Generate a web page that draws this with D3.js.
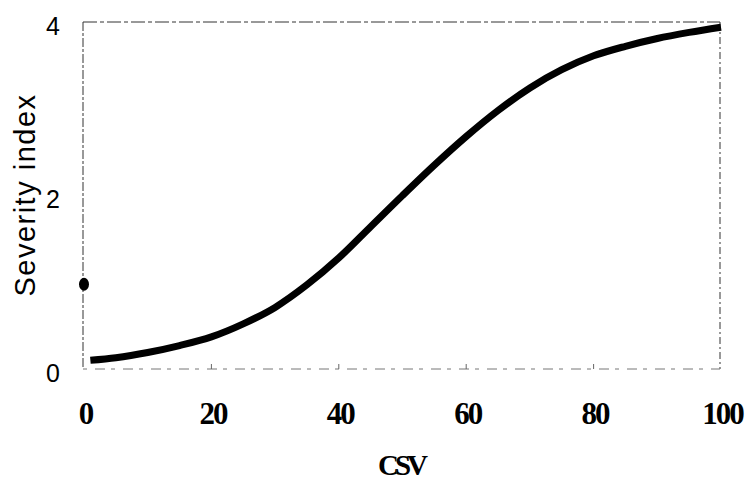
<!DOCTYPE html>
<html>
<head>
<meta charset="utf-8">
<script src="https://cdn.jsdelivr.net/npm/d3@7"></script>
<style>
  body { margin: 0; background: #fff; }
  svg { display: block; }
</style>
</head>
<body>
<script>
// values
var csv      = [1, 5, 10, 15, 20, 25, 30, 35, 40, 45, 50, 55, 60, 65, 70, 75, 80, 85, 90, 95, 100];
var severity = [0.10, 0.13, 0.19, 0.27, 0.37, 0.52, 0.71, 0.97, 1.28, 1.64, 2.00, 2.35, 2.68, 2.98, 3.24, 3.45, 3.61, 3.72, 3.81, 3.88, 3.94];
var dotCsv = [0];
var dotSeverity = [1];
var xTicks = [0, 20, 40, 60, 80, 100];
var yTicks = [0, 2, 4];

var W = 746, H = 481;

var x = d3.scaleLinear().domain([0, 100]).range([84, 721]);
var y = d3.scaleLinear().domain([0, 4]).range([369, 22]);

var svg = d3.select("body").append("svg")
    .attr("width", W)
    .attr("height", H);

// frame (dashed, like the scanned original)
var frame = svg.append("g")
    .attr("fill", "none")
    .attr("stroke", "#333")
    .attr("stroke-width", 1);

frame.append("line")
    .attr("x1", x(0) - 1).attr("x2", x(100) - 1)
    .attr("y1", y(4)).attr("y2", y(4))
    .attr("stroke-dasharray", "14,3,4,3");
frame.append("line")
    .attr("x1", x(0) - 1).attr("x2", x(0) - 1)
    .attr("y1", y(4)).attr("y2", y(0))
    .attr("stroke-dasharray", "9,2,3,2");
frame.append("line")
    .attr("x1", x(100) - 1).attr("x2", x(100) - 1)
    .attr("y1", y(4)).attr("y2", y(0))
    .attr("stroke-dasharray", "7,3,2,3");
frame.append("line")
    .attr("x1", x(0) - 1).attr("x2", x(100) - 1)
    .attr("y1", y(0)).attr("y2", y(0))
    .attr("stroke", "#777")
    .attr("stroke-dasharray", "4,8,10,6");

// small inner ticks on the bottom edge
frame.selectAll("line.tick")
    .data(xTicks.slice(1, -1))
    .enter().append("line")
    .attr("class", "tick")
    .attr("x1", function(d){ return x(d); })
    .attr("x2", function(d){ return x(d); })
    .attr("y1", y(0))
    .attr("y2", y(0) - 5)
    .attr("stroke", "#666");

// x axis
var xAxis = svg.append("g")
    .attr("transform", "translate(0," + y(0) + ")")
    .call(d3.axisBottom(x).tickValues(xTicks).tickSize(0).tickPadding(33).tickFormat(d3.format("d")));
xAxis.select(".domain").remove();
xAxis.selectAll("text")
    .attr("fill", "#000")
    .attr("dx", "1px")
    .style("font-family", "'Liberation Serif', 'Times New Roman', serif")
    .style("font-weight", "bold")
    .style("font-size", "31px")
    .style("letter-spacing", "-2px");

// y axis
var yAxis = svg.append("g")
    .attr("transform", "translate(" + (x(0) - 1) + ",0)")
    .call(d3.axisLeft(y).tickValues(yTicks).tickSize(0).tickPadding(23).tickFormat(d3.format("d")));
yAxis.select(".domain").remove();
yAxis.selectAll("text")
    .attr("fill", "#000")
    .attr("dy", "0.48em")
    .style("font-family", "'Liberation Sans', Arial, sans-serif")
    .style("font-size", "25px");

// axis titles
svg.append("text")
    .attr("x", 401)
    .attr("y", 475)
    .attr("text-anchor", "middle")
    .style("font-family", "'Liberation Serif', 'Times New Roman', serif")
    .style("font-weight", "bold")
    .style("font-size", "29px")
    .style("letter-spacing", "-4px")
    .text("CSV");

svg.append("text")
    .attr("transform", "translate(35,195) rotate(-90)")
    .attr("text-anchor", "middle")
    .style("font-family", "'Liberation Sans', Arial, sans-serif")
    .style("font-size", "29px")
    .style("letter-spacing", "1.5px")
    .text("Severity index");

// curve
var line = d3.line()
    .x(function(d){ return x(d[0]); })
    .y(function(d){ return y(d[1]); })
    .curve(d3.curveMonotoneX);

svg.append("path")
    .datum(d3.zip(csv, severity))
    .attr("fill", "none")
    .attr("stroke", "#000")
    .attr("stroke-width", 7)
    .attr("d", line);

// single point at CSV = 0
svg.selectAll("ellipse.dot")
    .data(d3.zip(dotCsv, dotSeverity))
    .enter().append("ellipse")
    .attr("class", "dot")
    .attr("cx", function(d){ return x(d[0]); })
    .attr("cy", function(d){ return y(d[1]) + 2; })
    .attr("rx", 5)
    .attr("ry", 6.5)
    .attr("fill", "#000");
</script>
</body>
</html>
